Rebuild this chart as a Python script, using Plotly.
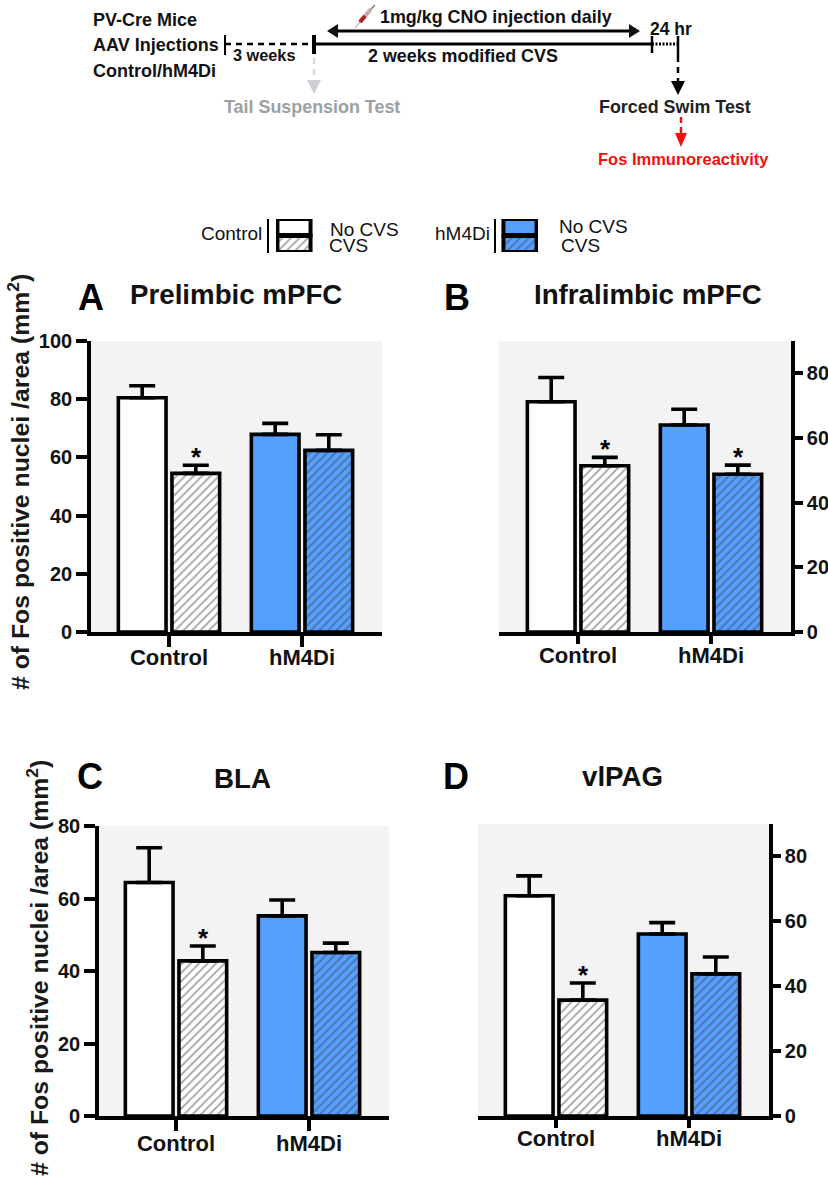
import plotly.graph_objects as go

W, H = 828, 1178
categories = ["Control", "hM4Di"]
WHITE, BLUE, GREY = "#ffffff", "#559ffe", "#f3f3f3"
bar_colors = [WHITE, BLUE]
hatch_colors = ["#000000", "#000000"]

panel_a_no_cvs = [80.5, 67.9]
panel_a_no_cvs_err = [4.1, 3.8]
panel_a_cvs = [54.5, 62.4]
panel_a_cvs_err = [2.8, 5.4]

panel_b_no_cvs = [71.2, 64.0]
panel_b_no_cvs_err = [7.5, 4.9]
panel_b_cvs = [51.4, 48.8]
panel_b_cvs_err = [2.6, 2.8]

panel_c_no_cvs = [64.4, 55.2]
panel_c_no_cvs_err = [9.6, 4.4]
panel_c_cvs = [42.8, 45.1]
panel_c_cvs_err = [4.1, 2.6]

panel_d_no_cvs = [67.9, 56.1]
panel_d_no_cvs_err = [6.1, 3.5]
panel_d_cvs = [35.7, 43.8]
panel_d_cvs_err = [5.3, 5.2]

FONT = "Liberation Sans"
HATCH = dict(shape="/", size=6, solidity=0.3, fgcolor=hatch_colors, fillmode="overlay")


def fx(x):
    return x / W


def fy(y):
    return 1 - y / H


panels = [
    dict(key="", no=panel_a_no_cvs, noe=panel_a_no_cvs_err, cv=panel_a_cvs, cve=panel_a_cvs_err,
         px=(91, 382), py=(341, 632), rng=(0, 100), side="left", ticks=[0, 20, 40, 60, 80, 100],
         cat_px=169, stars=[0], xlen=11, xoff=-8),
    dict(key="2", no=panel_b_no_cvs, noe=panel_b_no_cvs_err, cv=panel_b_cvs, cve=panel_b_cvs_err,
         px=(499, 791), py=(341, 632), rng=(0, 90), side="right", ticks=[0, 20, 40, 60, 80],
         cat_px=578, stars=[0, 1], xlen=8, xoff=-7),
    dict(key="3", no=panel_c_no_cvs, noe=panel_c_no_cvs_err, cv=panel_c_cvs, cve=panel_c_cvs_err,
         px=(99, 389), py=(826, 1116), rng=(0, 80), side="left", ticks=[0, 20, 40, 60, 80],
         cat_px=176, stars=[0], xlen=11, xoff=-6),
    dict(key="4", no=panel_d_no_cvs, noe=panel_d_no_cvs_err, cv=panel_d_cvs, cve=panel_d_cvs_err,
         px=(478, 769), py=(824, 1116), rng=(0, 90), side="right", ticks=[0, 20, 40, 60, 80],
         cat_px=556, stars=[0], xlen=8, xoff=-8),
]

fig = go.Figure()
shapes, annots = [], []
LW = 3.6
CAT_PX = 133

for p in panels:
    k = p["key"]
    xa, ya = "x" + k, "y" + k
    fig.add_trace(go.Bar(
        x=categories, y=p["no"], xaxis=xa, yaxis=ya, offsetgroup="no", name="No CVS",
        marker=dict(color=bar_colors, line=dict(color="black", width=LW)),
        error_y=dict(type="data", symmetric=False, array=p["noe"], arrayminus=[0, 0],
                     color="black", thickness=LW, width=13),
        showlegend=False,
    ))
    fig.add_trace(go.Bar(
        x=categories, y=p["cv"], xaxis=xa, yaxis=ya, offsetgroup="cvs", name="CVS",
        marker=dict(color=bar_colors, line=dict(color="black", width=LW), pattern=HATCH),
        error_y=dict(type="data", symmetric=False, array=p["cve"], arrayminus=[0, 0],
                     color="black", thickness=LW, width=13),
        showlegend=False,
    ))
    left = (p["px"][0] - p["cat_px"]) / CAT_PX
    right = (p["px"][1] - p["cat_px"]) / CAT_PX
    ax = dict(domain=[fx(p["px"][0]), fx(p["px"][1])], range=[left, right], type="category",
              anchor=ya, showgrid=False, zeroline=False, showline=True, linecolor="black",
              linewidth=LW, ticks="outside", ticklen=p["xlen"], tickwidth=LW, tickcolor="black",
              ticklabelstandoff=p["xoff"],
              tickfont=dict(family=FONT, size=22, color="#111111", weight=700), fixedrange=True)
    ay = dict(domain=[fy(p["py"][1]), fy(p["py"][0])], range=list(p["rng"]), anchor=xa,
              side=p["side"], showgrid=False, zeroline=False, showline=True, linecolor="black",
              linewidth=LW, ticks="outside", ticklen=11 if p["side"] == "left" else 8,
              tickwidth=LW, tickcolor="black",
              tickvals=p["ticks"], ticktext=[str(t) for t in p["ticks"]],
              tickfont=dict(family=FONT, size=20, color="#111111", weight=700),
              fixedrange=True)
    fig.update_layout({"xaxis" + k: ax, "yaxis" + k: ay})
    shapes.append(dict(type="rect", xref=f"{xa} domain", yref=f"{ya} domain", x0=0, x1=1, y0=0, y1=1,
                       fillcolor=GREY, line_width=0, layer="below"))
    for idx in p["stars"]:
        tops = p["cv"][idx] + p["cve"][idx]
        annots.append(dict(x=idx + 0.203, y=tops, xref=xa, yref=ya, text="*", showarrow=False,
                           yanchor="bottom", yshift=-9, font=dict(family=FONT, size=26, color="black", weight=700)))

# legend swatches, drawn as bars
legend_pos = [0.5, 6.78]
fig.add_trace(go.Bar(x=legend_pos, y=[0.97, 0.97], base=[1.03, 1.03], width=[0.92, 0.92], xaxis="x5", yaxis="y5",
                     offsetgroup="s", marker=dict(color=bar_colors, line=dict(color="black", width=4)),
                     showlegend=False))
fig.add_trace(go.Bar(x=legend_pos, y=[0.97, 0.97], base=[0, 0], width=[0.92, 0.92], xaxis="x5", yaxis="y5",
                     offsetgroup="s",
                     marker=dict(color=bar_colors, line=dict(color="black", width=4), pattern=HATCH),
                     showlegend=False))
fig.update_layout(
    xaxis5=dict(domain=[fx(276), fx(538)], range=[0, 7.28], visible=False, anchor="y5", fixedrange=True),
    yaxis5=dict(domain=[fy(252), fy(219)], range=[0, 2], visible=False, anchor="x5", fixedrange=True),
)


def text(s, x, y, size, color="#111111", weight=400, anchor="center", angle=0):
    annots.append(dict(text=s, x=fx(x), y=fy(y), xref="paper", yref="paper", showarrow=False,
                       xanchor=anchor, yanchor="middle", textangle=angle,
                       font=dict(family=FONT, size=size, color=color, weight=weight)))


def line(x0, y0, x1, y1, color="black", width=2.5, dash="solid"):
    shapes.append(dict(type="line", xref="paper", yref="paper", x0=fx(x0), y0=fy(y0), x1=fx(x1), y1=fy(y1),
                       line=dict(color=color, width=width, dash=dash)))


def tri(points, color):
    path = "M " + " L ".join(f"{fx(a)} {fy(b)}" for a, b in points) + " Z"
    shapes.append(dict(type="path", xref="paper", yref="paper", path=path, fillcolor=color, line_width=0))


# panel headings
text("Prelimbic mPFC", 236, 294, 27.7, weight=700)
text("Infralimbic mPFC", 647.5, 294, 27.7, weight=700)
text("BLA", 242.5, 778, 27.7, weight=700)
text("vlPAG", 622.5, 776, 27.7, weight=700)
text("A", 91, 297, 36, "black", 700)
text("B", 457, 297, 36, "black", 700)
text("C", 90, 776, 36, "black", 700)
text("D", 456, 776, 36, "black", 700)
ytitle = "# of Fos positive nuclei /area (mm<sup>2</sup>)"
text(ytitle, 19, 482, 24.8, weight=700, color="#1a1a1a", angle=-90)
text(ytitle, 37, 968, 24.8, weight=700, color="#1a1a1a", angle=-90)

# legend labels
text("Control", 231, 234, 19)
text("hM4Di", 462, 234, 19)
text("No CVS", 364, 229, 19)
text("CVS", 348.5, 246, 19)
text("No CVS", 593, 226, 19)
text("CVS", 580, 246, 19)
line(268, 219, 268, 253, width=2)
line(495, 219, 495, 253, width=2)

# timeline
text("PV-Cre Mice", 91, 20, 18, weight=700, anchor="left")
text("AAV Injections", 91, 45, 18, weight=700, anchor="left")
text("Control/hM4Di", 91, 71, 18, weight=700, anchor="left")
text("3 weeks", 263.5, 55, 16.3, weight=700)
text("1mg/kg CNO injection daily", 496, 17, 17.9, weight=700)
text("2 weeks modified CVS", 463, 56, 17.9, weight=700)
text("24 hr", 671, 29, 17.5, weight=700)
text("Tail Suspension Test", 311.5, 107, 17.9, "#9aa0a6", 700)
text("Forced Swim Test", 675, 107, 17.9, "#222222", 700)
text("Fos Immunoreactivity", 683.5, 159, 16.5, "#f01010", 700)

line(225, 35, 225, 55, width=2)
line(225, 44, 313, 44, width=2.5, dash="6px,5px")
line(314, 35, 314, 54, width=4)
line(314, 44, 652, 44, width=3)
line(652, 36, 652, 53, width=2.5)
line(652, 44, 677, 44, width=3, dash="2px,1.5px")
line(678, 36, 678, 56, width=2.5)
line(678, 56, 678, 82, width=2.5, dash="6px,5px")
tri([(671, 81), (685, 81), (678, 95)], "black")

line(335, 31, 630, 31, width=3)
tri([(327, 31), (338, 24), (338, 38)], "#111111")
tri([(640, 31), (629, 24), (629, 38)], "#111111")

line(314, 58, 314, 80, "#d6d9dc", 2.5, "6px,5px")
tri([(307, 80), (321, 80), (314, 94)], "#cdd0d3")
line(681, 117, 681, 134, "#f01010", 2.5, "6px,4px")
tri([(675, 133), (687, 133), (681, 147)], "#f01010")

# syringe
line(355, 28, 360, 22, "#999999", 1)
line(360, 22, 371, 9, "#c9a9a9", 4)
line(360, 22, 365, 16, "#b02020", 4)
line(371, 9, 375, 5, "#777777", 1.5)

fig.update_layout(
    width=W, height=H, margin=dict(l=0, r=0, t=0, b=0, autoexpand=False), autosize=False,
    barmode="group", bargap=0.194, bargroupgap=0.11,
    paper_bgcolor="white", plot_bgcolor="rgba(0,0,0,0)",
    shapes=shapes, annotations=annots, showlegend=False,
)
fig.write_html("out.html", post_script="document.body.style.margin='0';", config={"displayModeBar": False})
